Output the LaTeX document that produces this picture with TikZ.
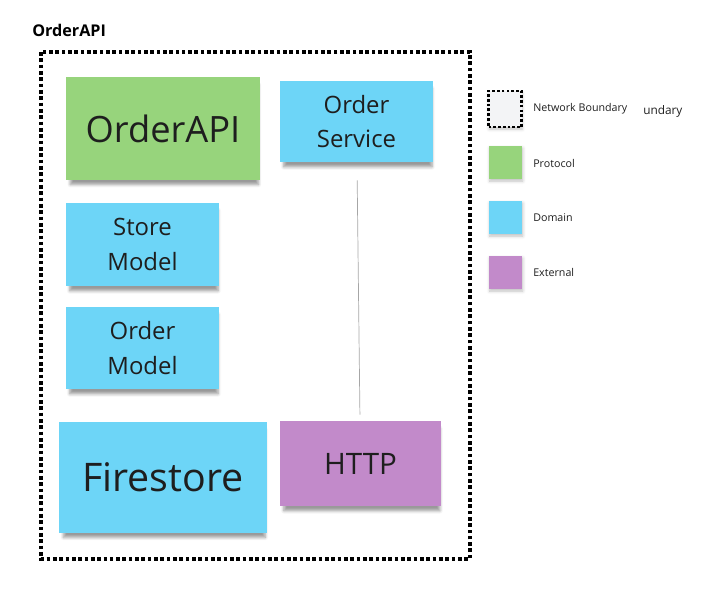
\documentclass[tikz,border=0pt]{standalone}
\usepackage{fontspec}
\setmainfont{Open Sans}
\usetikzlibrary{shadows.blur}
\definecolor{stickygreen}{HTML}{97D47C}
\definecolor{stickyblue}{HTML}{6DD5F7}
\definecolor{stickypurple}{HTML}{C28ACA}
\definecolor{boundfill}{HTML}{F3F4F6}
\definecolor{inktext}{HTML}{1E1E1E}
\tikzset{
  sticky/.style={draw=none, inner sep=0pt, align=center, text=inktext,
    blur shadow={shadow xshift=1pt, shadow yshift=-4.5pt, shadow scale=0.97, shadow blur steps=6, shadow opacity=40}},
  boundary/.style={line width=2.6pt, dash pattern=on 2.6pt off 1.9pt},
  legendbox/.style={draw=none, inner sep=0pt, minimum width=0.825cm, minimum height=0.825cm,
    blur shadow={shadow xshift=0.5pt, shadow yshift=-1.5pt, shadow blur steps=4, shadow opacity=25}},
  legendtext/.style={anchor=west, inner sep=0pt, text=inktext, font=\fontsize{7.6}{9}\selectfont}
}
\begin{document}
\begin{tikzpicture}[x=0.025cm, y=-0.025cm]
\useasboundingbox (0,0) rectangle (704,592);

% Title of the frame
\node [anchor=west, inner sep=0pt, font=\bfseries\fontsize{11.5}{13}\selectfont] (title) at (32,30) {OrderAPI};

% Network boundary
\draw [boundary] (41,52) rectangle (470,559);

% Stickies
\node [sticky, fill=stickygreen, minimum width=4.85cm, minimum height=2.575cm,
  font=\fontsize{25.8}{30}\selectfont] (orderapi) at (163,128.5) {OrderAPI};
\node [sticky, fill=stickyblue, minimum width=3.825cm, minimum height=2.025cm,
  font=\fontsize{17}{24.6}\selectfont] (ordersvc) at (356.5,121.5) {Order\\Service};
\node [sticky, fill=stickyblue, minimum width=3.825cm, minimum height=2.075cm,
  font=\fontsize{17}{24.6}\selectfont] (storemodel) at (142.5,244.5) {Store\\Model};
\node [sticky, fill=stickyblue, minimum width=3.825cm, minimum height=2.05cm,
  font=\fontsize{17}{24.6}\selectfont] (ordermodel) at (142.5,348) {Order\\Model};
\node [sticky, fill=stickyblue, minimum width=5.2cm, minimum height=2.775cm,
  font=\fontsize{28}{34}\selectfont] (firestore) at (163,477.5) {Firestore};
\node [sticky, fill=stickypurple, minimum width=4.025cm, minimum height=2.125cm,
  font=\fontsize{21}{26}\selectfont] (http) at (360.5,463.5) {HTTP};

% Link between Order Service and HTTP
\draw [gray!70, line width=0.5pt, shorten <=0.45cm, shorten >=0.15cm] (ordersvc) -- (http);

% Legend
\node [legendbox, fill=boundfill, draw=black, line width=1.9pt, dash pattern=on 1.9pt off 1.5pt,
  minimum height=0.9cm] (lgbound) at (505,109) {};
\node [legendbox, fill=stickygreen] (lgproto) at (505.5,162.5) {};
\node [legendbox, fill=stickyblue] (lgdomain) at (505.5,217.5) {};
\node [legendbox, fill=stickypurple] (lgext) at (505.5,272.5) {};
\node [legendtext] (lbbound) at (533,109) {Network Boundary};
\node [legendtext, font=\fontsize{8.4}{10}\selectfont] (lbclip) at (643,111) {undary};
\node [legendtext] (lbproto) at (533,163) {Protocol};
\node [legendtext] (lbdomain) at (533,218) {Domain};
\node [legendtext] (lbext) at (533,272) {External};
\end{tikzpicture}
\end{document}
